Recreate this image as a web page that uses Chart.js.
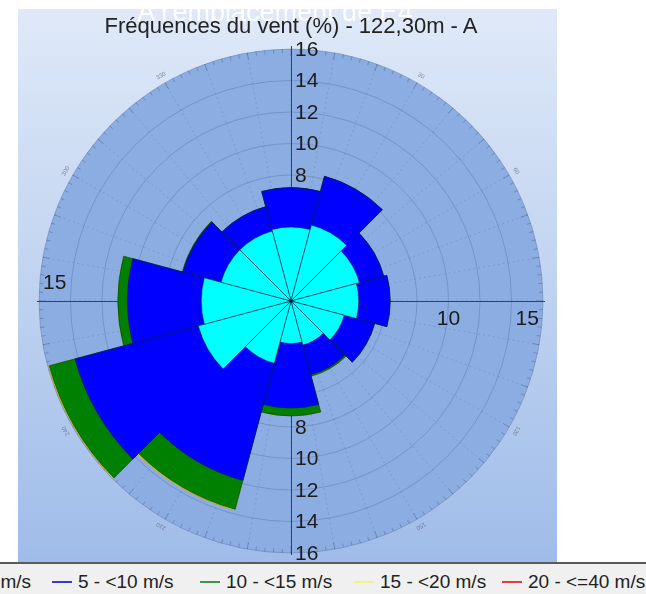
<!DOCTYPE html>
<html lang="fr">
<head>
<meta charset="UTF-8">
<title>Fréquences du vent</title>
<script src="https://cdn.jsdelivr.net/npm/chart.js"></script>
<style>
  html, body { margin: 0; padding: 0; background: #fff; }
  body { width: 646px; height: 594px; position: relative; overflow: hidden;
         font-family: "Liberation Sans", Arial, sans-serif; }
  #panel { position: absolute; left: 18px; top: 9px; width: 539px; height: 553px;
           background: linear-gradient(to bottom, #dfe9f8 0%, #c3d5f1 45%, #9fbce9 100%); }
  #wrap { position: absolute; left: 0; top: 0; width: 646px; height: 594px; }
  #ghost { position: absolute; left: 0; width: 550px; top: -1px; text-align: center;
           font-size: 27px; line-height: 27px; color: rgba(255,255,255,0.92); white-space: nowrap; }
  #title { position: absolute; left: 0; width: 582px; top: 15px; text-align: center;
           font-size: 22px; line-height: 22px; color: #222; white-space: nowrap; }
  #legend { position: absolute; left: 0; top: 562px; width: 646px; height: 32px;
            background: #f0f0f0; border-top: 2px solid #5a5a5a; overflow: hidden; }
  .item { position: absolute; top: 6px; display: flex; align-items: center; white-space: nowrap;
          font-size: 19px; line-height: 24px; color: #222; }
  .swatch { display: inline-block; width: 20px; height: 2px; margin-right: 6px; }
</style>
</head>
<body>
<div id="panel"></div>
<div id="wrap"><canvas id="rose"></canvas></div>
<div id="ghost">A l'emplacement de E4</div>
<div id="title">Fréquences du vent (%) - 122,30m - A</div>
<div id="legend"></div>

<script>
  // directions (sector centres, degrees) and frequencies (%) per speed band
  const sectors = ['0°', '30°', '60°', '90°', '120°', '150°', '180°', '210°', '240°', '270°', '300°', '330°'];
  const speedBins = ['0 - <5 m/s', '5 - <10 m/s', '10 - <15 m/s', '15 - <20 m/s', '20 - <=40 m/s'];
  const freq0to5   = [4.7, 5.0, 4.5, 4.3, 3.5, 2.9, 2.7, 4.1, 6.1, 5.7, 4.6, 4.6];
  const freq5to10  = [2.5, 3.2, 1.6, 2.0, 2.0, 1.95, 4.1, 7.7, 8.1, 4.7, 2.5, 1.6];
  const freq10to15 = [0, 0, 0, 0, 0, 0.1, 0.5, 1.9, 1.7, 0.6, 0.05, 0];
  const freq15to20 = [0, 0, 0, 0, 0, 0, 0, 0.05, 0.05, 0, 0, 0];
  const freq20to40 = [0, 0, 0, 0, 0, 0, 0, 0, 0, 0, 0, 0];
  const radialTicks = [8, 10, 12, 14, 16];
  const rightTicks = [10, 15];
  const leftTicks = [15];

  const bandColors = ['#00ffff', '#0000ff', '#008000', '#ffff00', '#ff0000'];
  const legendColors = ['#00e5e5', '#3a3acc', '#3c9a3c', '#f4f47a', '#e83a3a'];
  const legendLeft = [-80, 52, 200, 354, 502];

  // stacked wind rose: each band drawn from the centre as a running total
  const bands = [freq0to5, freq5to10, freq10to15, freq15to20, freq20to40];
  let running = new Array(sectors.length).fill(0);
  const datasets = bands.map((band, i) => {
    running = running.map((v, k) => v + band[k]);
    return {
      label: speedBins[i],
      data: running.slice(),
      backgroundColor: bandColors[i],
      borderColor: i < 2 ? 'rgba(0,30,60,0.55)' : 'rgba(0,40,0,0.5)',
      borderWidth: i < 3 ? 1 : 0
    };
  });

  const roseDecor = {
    id: 'roseDecor',
    beforeDraw(chart) {
      const s = chart.scales.r, ctx = chart.ctx;
      ctx.save();
      ctx.fillStyle = '#8cade1';
      ctx.beginPath();
      ctx.arc(s.xCenter, s.yCenter, s.drawingArea, 0, Math.PI * 2);
      ctx.fill();
      ctx.restore();
    },
    beforeDatasetsDraw(chart) {
      const s = chart.scales.r, ctx = chart.ctx;
      const xc = s.xCenter, yc = s.yCenter, R = s.drawingArea;
      ctx.save();
      // faint radial lines
      ctx.strokeStyle = 'rgba(60,80,130,0.22)';
      ctx.setLineDash([2, 3]);
      ctx.lineWidth = 1;
      for (let a = 0; a < 360; a += 10) {
        const t = (a - 90) * Math.PI / 180;
        ctx.beginPath();
        ctx.moveTo(xc, yc);
        ctx.lineTo(xc + R * Math.cos(t), yc + R * Math.sin(t));
        ctx.stroke();
      }
      ctx.setLineDash([]);
      // ring ticks
      ctx.strokeStyle = 'rgba(70,90,140,0.45)';
      for (let a = 0; a < 360; a += 2) {
        const t = (a - 90) * Math.PI / 180;
        const len = a % 10 === 0 ? 7 : 4;
        ctx.beginPath();
        ctx.moveTo(xc + (R - len) * Math.cos(t), yc + (R - len) * Math.sin(t));
        ctx.lineTo(xc + R * Math.cos(t), yc + R * Math.sin(t));
        ctx.stroke();
      }
      // tiny compass labels
      ctx.fillStyle = 'rgba(90,100,125,0.7)';
      ctx.font = '6px "Liberation Sans", Arial';
      ctx.textAlign = 'center';
      ctx.textBaseline = 'middle';
      for (let a = 30; a < 360; a += 30) {
        if (a % 90 === 0) continue;
        const t = (a - 90) * Math.PI / 180;
        ctx.save();
        ctx.translate(xc + (R + 8) * Math.cos(t), yc + (R + 8) * Math.sin(t));
        ctx.rotate(t + Math.PI / 2);
        ctx.fillText(String(a), 0, 0);
        ctx.restore();
      }
      // crosshair axes
      ctx.strokeStyle = '#3a4252';
      ctx.lineWidth = 1;
      ctx.beginPath();
      ctx.moveTo(xc - R - 2, yc + 0.5); ctx.lineTo(xc + R + 2, yc + 0.5);
      ctx.moveTo(xc + 0.5, yc - R - 3); ctx.lineTo(xc + 0.5, yc + R + 2);
      ctx.stroke();
      // axis labels
      ctx.fillStyle = '#1c1c1c';
      ctx.font = '21px "Liberation Sans", Arial';
      ctx.textAlign = 'left';
      ctx.textBaseline = 'middle';
      radialTicks.forEach(v => {
        const d = s.getDistanceFromCenterForValue(v);
        ctx.fillText(String(v), xc + 4, yc - d + 1);
        ctx.fillText(String(v), xc + 4, yc + d + 1);
      });
      ctx.textAlign = 'center';
      ctx.textBaseline = 'top';
      rightTicks.forEach(v => {
        ctx.fillText(String(v), xc + s.getDistanceFromCenterForValue(v), yc + 8);
      });
      ctx.textBaseline = 'bottom';
      leftTicks.forEach(v => {
        ctx.fillText(String(v), xc - s.getDistanceFromCenterForValue(v), yc - 7);
      });
      ctx.restore();
    },
    afterDatasetsDraw(chart) {
      const s = chart.scales.r, ctx = chart.ctx;
      ctx.save();
      ctx.fillStyle = '#0a2a2a';
      ctx.beginPath();
      ctx.arc(s.xCenter, s.yCenter, 1.8, 0, Math.PI * 2);
      ctx.fill();
      ctx.restore();
    }
  };

  const ctx = document.getElementById('rose').getContext('2d');
  const rose = new Chart(ctx, {
    type: 'polarArea',
    data: { labels: sectors, datasets: datasets },
    options: {
      responsive: true,
      maintainAspectRatio: false,
      animation: false,
      layout: { padding: { left: 39, top: 49, right: 103, bottom: 41 } },
      plugins: { legend: { display: false }, tooltip: { enabled: false } },
      scales: {
        r: {
          min: 0,
          max: 16,
          startAngle: -15,
          ticks: { display: false, stepSize: 2 },
          grid: { circular: true, color: 'rgba(60,80,130,0.28)', borderDash: [2, 3] },
          angleLines: { display: false },
          pointLabels: { display: false }
        }
      }
    },
    plugins: [roseDecor]
  });

  // legend strip (first entry runs off the left edge like the original)
  const legendBox = document.getElementById('legend');
  speedBins.forEach((name, i) => {
    const item = document.createElement('span');
    item.className = 'item';
    item.style.left = legendLeft[i] + 'px';
    item.innerHTML = '<span class="swatch" style="background:' + legendColors[i] + '"></span>' + name.replace('<', '&lt;');
    legendBox.appendChild(item);
  });
</script>
</body>
</html>
